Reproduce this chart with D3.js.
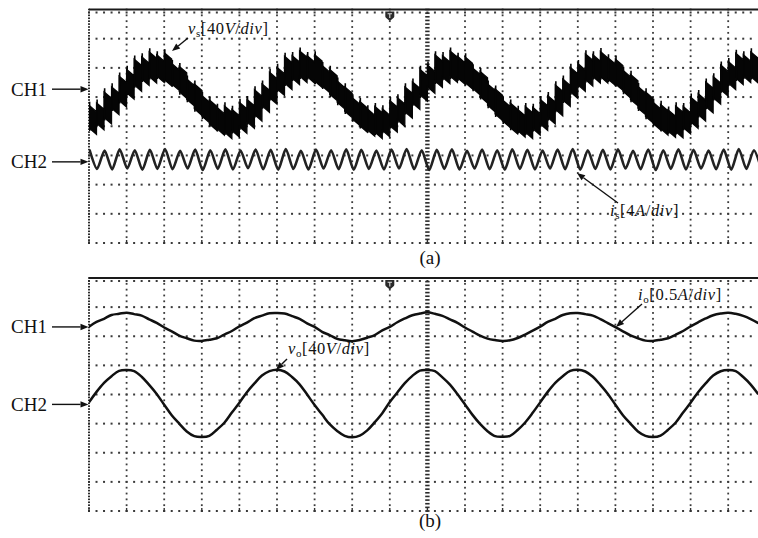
<!DOCTYPE html>
<html><head><meta charset="utf-8">
<script src="https://cdn.jsdelivr.net/npm/d3@7"></script>
<style>html,body{margin:0;padding:0;background:#fff;} svg{display:block}</style>
</head><body>
<svg id="c" width="758" height="538"></svg>
<script>
// ---------- DATA (time in divisions, amplitude in divisions from screen centre) ----------
const sampleStep = 0.2;   // time between samples, divisions

// panel (a) CH1: v_s, upper / lower edge of the switching band
const vsHigh = [0.72,0.80,1.18,1.35,1.72,1.95,2.30,2.38,2.55,2.45,2.52,2.15,2.05,1.62,1.45,1.05,0.90,0.65,0.70,0.58,
  0.82,0.92,1.25,1.45,1.85,2.02,2.40,2.42,2.58,2.42,2.45,2.08,1.95,1.55,1.35,0.98,0.85,0.60,0.68,0.60,
  0.88,0.98,1.35,1.52,1.95,2.10,2.45,2.42,2.58,2.40,2.38,2.00,1.88,1.45,1.28,0.90,0.80,0.58,0.68,0.65,
  0.92,1.05,1.42,1.62,2.02,2.15,2.48,2.45,2.56,2.35,2.30,1.92,1.78,1.36,1.18,0.82,0.75,0.56,0.70,0.68,
  1.00,1.12,1.52,1.70,2.10,2.22,2.50,2.45,2.55,2.30];
const vsLow = [-0.06,0.10,0.30,0.62,0.88,1.15,1.42,1.62,1.70,1.72,1.60,1.45,1.18,0.92,0.60,0.35,0.08,-0.08,-0.20,-0.15,
  -0.02,0.15,0.40,0.70,0.98,1.28,1.48,1.65,1.72,1.70,1.55,1.38,1.10,0.82,0.52,0.25,0.02,-0.12,-0.20,-0.14,
  0.02,0.22,0.50,0.80,1.08,1.35,1.55,1.68,1.72,1.66,1.50,1.30,1.02,0.72,0.42,0.18,-0.04,-0.15,-0.20,-0.08,
  0.08,0.30,0.58,0.90,1.18,1.42,1.60,1.70,1.70,1.62,1.45,1.20,0.92,0.62,0.34,0.10,-0.08,-0.16,-0.18,-0.04,
  0.15,0.40,0.68,0.98,1.25,1.48,1.65,1.72,1.70,1.58];

// panel (a) CH2: i_s ripple, successive peaks / troughs
const isStart = 0.013, isHalfPeriod = 0.2008;
const isExtrema = [-0.80,-1.46,-0.83,-1.48,-0.79,-1.45,-0.82,-1.49,-0.81,-1.46,-0.78,-1.47,-0.84,-1.45,-0.80,-1.50,-0.82,-1.46,-0.79,-1.48,
  -0.83,-1.44,-0.80,-1.47,-0.81,-1.49,-0.78,-1.46,-0.84,-1.48,-0.80,-1.45,-0.82,-1.47,-0.79,-1.49,-0.81,-1.46,-0.83,-1.48,
  -0.80,-1.45,-0.78,-1.47,-0.82,-1.50,-0.81,-1.46,-0.79,-1.48,-0.84,-1.45,-0.80,-1.47,-0.82,-1.49,-0.79,-1.46,-0.81,-1.48,
  -0.83,-1.45,-0.80,-1.47,-0.78,-1.49,-0.82,-1.46,-0.81,-1.48,-0.79,-1.45,-0.84,-1.47,-0.80,-1.50,-0.82,-1.46,-0.79,-1.48,
  -0.81,-1.45,-0.83,-1.47,-0.80,-1.49,-0.78,-1.46,-0.82,-1.48];

// panel (b) CH1: i_o
const ioValues = [2.33,2.49,2.60,2.73,2.77,2.81,2.76,2.71,2.58,2.46,2.30,2.17,2.02,1.93,1.85,1.84,1.88,1.93,2.06,2.18,
  2.34,2.47,2.62,2.71,2.79,2.80,2.78,2.69,2.60,2.44,2.32,2.15,2.04,1.91,1.86,1.83,1.87,1.95,2.04,2.20,
  2.32,2.48,2.61,2.72,2.78,2.82,2.77,2.70,2.58,2.46,2.30,2.16,2.02,1.92,1.87,1.84,1.86,1.94,2.06,2.19,
  2.33,2.49,2.60,2.73,2.79,2.80,2.76,2.71,2.59,2.45,2.31,2.17,2.03,1.93,1.85,1.84,1.88,1.93,2.05,2.18,
  2.34,2.48,2.61,2.72,2.78,2.81,2.77,2.70,2.59,2.45];

// panel (b) CH2: v_o
const voValues = [-0.27,0.09,0.40,0.63,0.81,0.84,0.80,0.61,0.33,0.02,-0.35,-0.71,-1.00,-1.27,-1.43,-1.46,-1.42,-1.21,-0.97,-0.62,
  -0.28,0.08,0.38,0.65,0.80,0.85,0.79,0.60,0.35,0.00,-0.36,-0.69,-1.02,-1.25,-1.42,-1.47,-1.41,-1.23,-0.95,-0.64,
  -0.26,0.07,0.39,0.64,0.82,0.84,0.80,0.59,0.34,0.01,-0.34,-0.70,-1.01,-1.26,-1.43,-1.45,-1.42,-1.22,-0.96,-0.63,
  -0.27,0.09,0.40,0.63,0.81,0.85,0.79,0.61,0.33,0.02,-0.35,-0.71,-1.00,-1.27,-1.42,-1.46,-1.41,-1.21,-0.97,-0.62,
  -0.28,0.08,0.38,0.65,0.80,0.84,0.80,0.60,0.34,0.01];

const channelNames = ["CH1", "CH2"];
const channelLevelsA = [1.27, -1.22];
const channelLevelsB = [2.32, -0.34];
const captions = ["(a)", "(b)"];
const triggerTime = 8.0;
const gridCols = 18, gridRows = 8, minorPerDiv = 5;

// ---------- LAYOUT ----------
const svg = d3.select("#c");
const FONT = "'Liberation Serif','Times New Roman',serif";
const x = d3.scaleLinear().domain([0, gridCols]).range([89, 89 + gridCols * 37.6]);
const panels = [
  {top: 9.5, bottom: 243},
  {top: 278, bottom: 511}
];
panels.forEach(p => p.y = d3.scaleLinear().domain([-gridRows/2, gridRows/2]).range([p.bottom, p.top]));
const yA = panels[0].y, yB = panels[1].y;

const defs = svg.append("defs");
panels.forEach((p, i) => {
  defs.append("clipPath").attr("id", "clip" + i).append("rect")
    .attr("x", x(0)).attr("y", p.top - 2).attr("width", 758 - x(0)).attr("height", p.bottom - p.top + 4);
});

function drawGrid(p) {
  const g = svg.append("g");
  const dotCol = "#3a3a3a";
  for (let r = -gridRows/2; r <= gridRows/2; r++) {
    const yy = r === gridRows/2 ? p.y(r) + 3 : p.y(r);
    const n = gridCols * minorPerDiv;
    for (let k = 0; k <= n; k++) {
      const xx = x(k / minorPerDiv);
      if (xx > 758) break;
      g.append("rect").attr("x", xx - 1).attr("y", yy - 1).attr("width", 2).attr("height", 2).attr("fill", dotCol);
    }
  }
  for (let c = 0; c <= gridCols; c++) {
    const xx = x(c);
    if (xx > 758) break;
    if (c === gridCols/2) {
      for (let m = 0; m <= gridRows * 8; m++) {
        const yy = p.y(-gridRows/2 + m / 8);
        g.append("rect").attr("x", xx - 2.2).attr("y", yy - 0.8).attr("width", 4.4).attr("height", 1.6).attr("fill", "#2a2a2a");
      }
    } else if (c === 0) {
      for (let m = 0; m <= gridRows * 10; m++) {
        const yy = p.y(-gridRows/2 + m / 10);
        g.append("rect").attr("x", xx - 1).attr("y", yy - 0.8).attr("width", 2).attr("height", 1.6).attr("fill", "#2a2a2a");
      }
    } else {
      for (let m = 0; m <= gridRows * minorPerDiv; m++) {
        const yy = p.y(-gridRows/2 + m / minorPerDiv);
        g.append("rect").attr("x", xx - 0.9).attr("y", yy - 0.9).attr("width", 1.8).attr("height", 1.8).attr("fill", dotCol);
      }
    }
    g.append("line").attr("x1", xx).attr("x2", xx).attr("y1", p.bottom - 3).attr("y2", p.bottom + 1)
      .attr("stroke", "#333").attr("stroke-width", 1.4);
  }
  g.append("line").attr("x1", x(0)).attr("x2", 758).attr("y1", p.top).attr("y2", p.top)
    .attr("stroke", "#1a1a1a").attr("stroke-width", 2.2);
  const tm = g.append("g").attr("transform", `translate(${x(triggerTime)},${p.top + 2})`);
  tm.append("path").attr("d", "M-4.5,0 H4.5 V5 Q4.5,6 3,7 L0,9.5 L-3,7 Q-4.5,6 -4.5,5 Z").attr("fill", "#2a2a2a");
  tm.append("path").attr("d", "M-2.2,2.2 H2.2 M0,2.2 V6.5").attr("stroke", "#ddd").attr("stroke-width", 1.1);
}
panels.forEach(drawGrid);

// ---------- WAVEFORMS ----------
// (a) CH1 v_s: each switching interval drawn as a drooping block (vertical jump, then sag)
const droop = 0.22;
const vsPts = [];
vsHigh.forEach((h, i) => {
  const t0 = i * sampleStep, t1 = (i + 1) * sampleStep - 0.001;
  vsPts.push({t: t0, hi: h, lo: vsLow[i]});
  vsPts.push({t: t1, hi: h - droop, lo: vsLow[i] - droop});
});
const gA = svg.append("g").attr("clip-path", "url(#clip0)");
gA.append("path").datum(vsPts)
  .attr("d", d3.area().x(d => x(d.t)).y0(d => yA(d.lo)).y1(d => yA(d.hi)))
  .attr("fill", "#050505").attr("stroke", "#050505").attr("stroke-width", 1.3).attr("stroke-linejoin", "miter");
// thin switching spikes at each interval start
gA.selectAll("line.spk").data(vsHigh).join("line")
  .attr("x1", (d, i) => x(i * sampleStep) + 0.6).attr("x2", (d, i) => x(i * sampleStep) + 0.6)
  .attr("y1", (d, i) => yA(vsLow[i] - 0.1)).attr("y2", d => yA(d + 0.12))
  .attr("stroke", "#050505").attr("stroke-width", 1.6);

// (a) CH2 i_s ripple
const isData = isExtrema.map((v, k) => ({t: isStart + k * isHalfPeriod, v}));
gA.append("path").datum(isData)
  .attr("d", d3.line().x(d => x(d.t)).y(d => yA(d.v)).curve(d3.curveCardinal.tension(0.3)))
  .attr("fill", "none").attr("stroke", "#222").attr("stroke-width", 2.6).attr("stroke-linejoin", "round");

// (b) waveforms
const gB = svg.append("g").attr("clip-path", "url(#clip1)");
[ioValues, voValues].forEach(arr => {
  gB.append("path").datum(arr.map((v, i) => ({t: i * sampleStep, v})))
    .attr("d", d3.line().x(d => x(d.t)).y(d => yB(d.v)).curve(d3.curveCatmullRom))
    .attr("fill", "none").attr("stroke", "#111").attr("stroke-width", 2.5).attr("stroke-linejoin", "round");
});

// ---------- LABELS ----------
function arrow(x1, y1, x2, y2) {
  const a = Math.atan2(y2 - y1, x2 - x1), L = 8, w = 3.2;
  const bx = x2 - L * Math.cos(a), by = y2 - L * Math.sin(a);
  svg.append("line").attr("x1", x1).attr("y1", y1).attr("x2", bx).attr("y2", by)
    .attr("stroke", "#111").attr("stroke-width", 1.4);
  svg.append("path").attr("fill", "#111").attr("d",
    `M${x2},${y2} L${bx - w * Math.sin(a)},${by + w * Math.cos(a)} L${bx + w * Math.sin(a)},${by - w * Math.cos(a)} Z`);
}

function channelLabels(p, levels) {
  levels.forEach((lv, i) => {
    const yy = p.y(lv);
    svg.append("text").attr("x", 11).attr("y", yy + 6.5).attr("font-family", FONT).attr("font-size", 19)
      .attr("fill", "#111").text(channelNames[i]);
    arrow(52, yy, x(0) - 0.5, yy);
  });
}
channelLabels(panels[0], channelLevelsA);
channelLabels(panels[1], channelLevelsB);

function annot(xx, yy, main, sub, rest) {
  const t = svg.append("text").attr("x", xx).attr("y", yy).attr("font-family", FONT)
    .attr("font-size", 16.5).attr("letter-spacing", 0.6).attr("fill", "#111");
  t.append("tspan").attr("font-style", "italic").text(main);
  t.append("tspan").attr("font-size", 11).attr("dy", 3).text(sub);
  let first = true;
  rest.forEach(([s, it]) => {
    const ts = t.append("tspan").text(s);
    if (first) { ts.attr("dy", -3); first = false; }
    if (it) ts.attr("font-style", "italic");
  });
}
annot(188, 34, "v", "s", [["[40", false], ["V", true], ["/", false], ["div", true], ["]", false]]);
arrow(188, 38, 172, 51);
annot(610, 216, "i", "s", [["[4", false], ["A", true], ["/", false], ["div", true], ["]", false]]);
arrow(618, 203, 577, 173);
annot(638, 300, "i", "o", [["[0.5", false], ["A", true], ["/", false], ["div", true], ["]", false]]);
arrow(642, 304, 616, 327);
annot(288, 354, "v", "o", [["[40", false], ["V", true], ["/", false], ["div", true], ["]", false]]);
arrow(287, 359, 276, 370);

svg.append("text").attr("x", 430).attr("y", 264).attr("text-anchor", "middle").attr("font-family", FONT)
  .attr("font-size", 19).attr("fill", "#111").text(captions[0]);
svg.append("text").attr("x", 430).attr("y", 527).attr("text-anchor", "middle").attr("font-family", FONT)
  .attr("font-size", 19).attr("fill", "#111").text(captions[1]);
</script>
</body></html>
